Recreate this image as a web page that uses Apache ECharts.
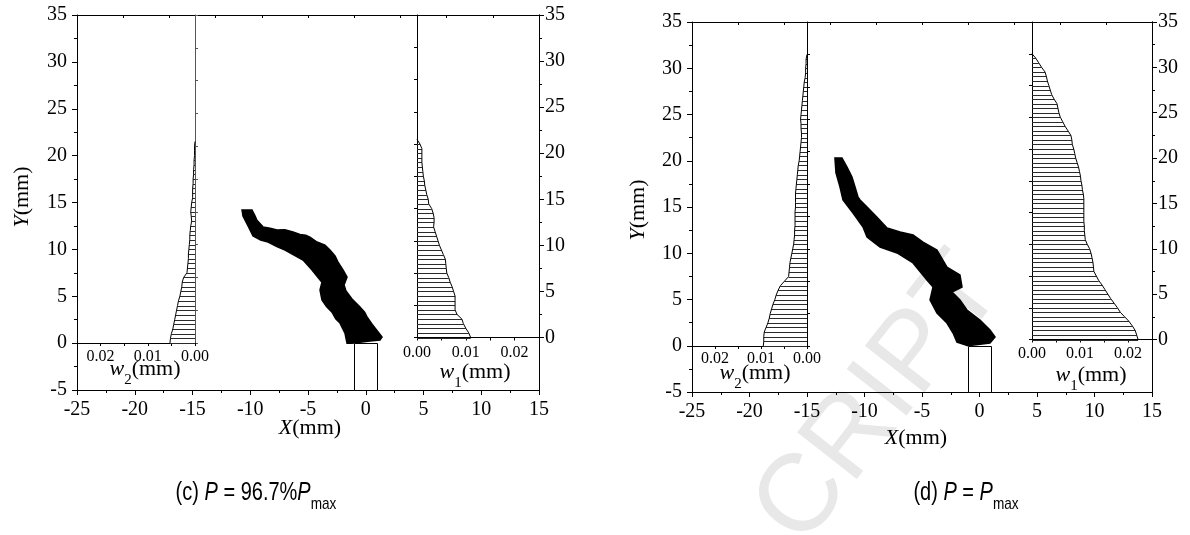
<!DOCTYPE html>
<html>
<head>
<meta charset="utf-8">
<script src="https://cdn.jsdelivr.net/npm/echarts@6.0.0/dist/echarts.min.js"></script>
<style>
  html, body { margin: 0; padding: 0; background: #fff; }
  #chart { width: 1190px; height: 535px; }
</style>
</head>
<body>
<div id="chart"></div>
<script>
// ---- Crack-opening profiles, w in mm, sampled every 0.5 mm along Y ----
// (c) P = 96.7% Pmax
const yC = [0,0.5,1,1.5,2,2.5,3,3.5,4,4.5,5,5.5,6,6.5,7,7.5,8,8.5,9,9.5,10,10.5,
            11,11.5,12,12.5,13,13.5,14,14.5,15,15.5,16,16.5,17,17.5,18,18.5,19,19.5,20,20.5,21,21.5];
const w1C = [0.0110,0.0106,0.0100,0.0095,0.0092,0.0082,0.0078,0.0078,0.0078,0.0078,
             0.0075,0.0072,0.0068,0.0065,0.0061,0.0060,0.0059,0.0058,0.0054,0.0050,
             0.0046,0.0043,0.0040,0.0037,0.0034,0.0035,0.0035,0.0033,0.0030,0.0024,
             0.0023,0.0020,0.0018,0.0016,0.0015,0.0013,0.0012,0.0011,0.0010,0.0010,
             0.0010,0.0010,0.0006,0];
const w2C = [0.0053,0.0052,0.0050,0.0047,0.0045,0.0043,0.0041,0.0039,0.0037,0.0035,
             0.0032,0.0030,0.0028,0.0027,0.0024,0.0017,0.0016,0.0015,0.0014,0.0014,
             0.0013,0.0012,0.0011,0.0011,0.0010,0.0009,0.0007,0.0008,0.0009,0.0008,
             0.0007,0.0005,0.0005,0.0005,0.0004,0.0004,0.0003,0.0003,0.0002,0.0002,
             0.0001,0.0001,0.0001,0];
// (d) P = Pmax
const yD = [0,0.5,1,1.5,2,2.5,3,3.5,4,4.5,5,5.5,6,6.5,7,7.5,8,8.5,9,9.5,10,10.5,
            11,11.5,12,12.5,13,13.5,14,14.5,15,15.5,16,16.5,17,17.5,18,18.5,19,19.5,20,20.5,
            21,21.5,22,22.5,23,23.5,24,24.5,25,25.5,26,26.5,27,27.5,28,28.5,29,29.5,30,30.5,31,31.5];
const w1D = [0.0221,0.0218,0.0215,0.0209,0.0202,0.0193,0.0184,0.0178,0.0171,0.0164,
             0.0158,0.0152,0.0146,0.0139,0.0134,0.0129,0.0128,0.0127,0.0125,0.0123,
             0.0120,0.0115,0.0111,0.0110,0.0109,0.0109,0.0108,0.0108,0.0108,0.0108,
             0.0108,0.0108,0.0107,0.0105,0.0104,0.0102,0.0101,0.0099,0.0097,0.0094,
             0.0091,0.0089,0.0087,0.0084,0.0083,0.0081,0.0075,0.0069,0.0064,0.0059,
             0.0056,0.0054,0.0052,0.0046,0.0041,0.0038,0.0035,0.0032,0.0030,0.0027,
             0.0020,0.0014,0.0008,0];
const w2D = [0.0095,0.0094,0.0094,0.0093,0.0089,0.0085,0.0082,0.0080,0.0077,0.0074,
             0.0070,0.0067,0.0063,0.0058,0.0049,0.0040,0.0039,0.0038,0.0037,0.0035,
             0.0033,0.0031,0.0029,0.0028,0.0027,0.0027,0.0026,0.0026,0.0026,0.0026,
             0.0025,0.0025,0.0025,0.0025,0.0024,0.0023,0.0022,0.0021,0.0020,0.0019,
             0.0017,0.0016,0.0015,0.0014,0.0013,0.0012,0.0012,0.0013,0.0013,0.0014,
             0.0013,0.0012,0.0011,0.0010,0.0009,0.0008,0.0007,0.0006,0.0004,0.0003,
             0.0003,0.0002,0.0002,0];

// ---- Crack band outlines, [X, Y] in mm ----
const crackC = [[-10.71,14.2],[-9.85,14.2],[-9.60,13.6],[-9.42,13.1],[-8.90,12.4],[-8.29,12.25],[-7.68,12.06],
  [-7.0,12.1],[-6.30,11.85],[-5.69,11.6],[-5.2,11.5],[-4.83,11.3],[-4.22,10.78],[-3.53,10.46],[-3.10,9.93],[-2.66,9.29],
  [-2.40,8.65],[-1.97,7.8],[-1.62,7.05],[-1.88,6.2],[-1.71,5.56],[-1.19,4.7],[-0.50,3.86],
  [-0.1,3.3],[0.11,2.8],[0.5,2.1],[0.80,1.61],[1.41,0.65],[1.23,0.33],[0.37,0.22],[-1.19,0.0],[-1.62,0.0],
  [-1.80,1.07],[-2.23,2.14],[-2.6,2.6],[-2.92,3.3],[-3.4,3.9],[-3.79,4.6],[-3.96,5.66],[-3.79,6.5],[-4.2,7.1],[-4.65,7.8],
  [-5.43,8.86],[-6.21,9.4],[-6.99,9.93],[-7.7,10.3],[-8.46,10.78],[-9.1,11.0],[-9.76,11.42],[-10.19,12.49],[-10.63,13.56]];
const crackD = [[-12.57,20.3],[-11.96,20.3],[-11.52,19.3],[-11.09,18.25],[-10.83,17.2],[-10.57,16.1],
  [-10.39,15.76],[-9.78,15.0],[-8.91,13.9],[-8.04,12.73],[-6.91,12.3],[-5.78,11.97],[-4.91,11.2],
  [-3.70,10.35],[-2.83,8.5],[-1.70,7.65],[-1.52,6.35],[-2.39,5.8],[-1.70,4.95],[-1.09,3.86],
  [0.04,2.78],[0.91,1.7],[1.35,0.95],[0.91,0.3],[-1.0,0.0],[-1.96,0.4],[-2.30,1.38],[-2.83,2.46],
  [-3.70,3.54],[-4.30,4.95],[-4.04,6.35],[-4.57,7.1],[-5.78,8.95],[-7.17,10.03],[-8.65,10.68],
  [-9.78,11.75],[-10.13,12.84],[-11.0,14.35],[-11.87,15.76],[-12.13,17.16],[-12.48,18.68]];

// Notch [X0, Y0, X1, Y1] in mm
const notch = [[-1, -5, 1, 0]];

// Axis ranges
const xRange = [-25, 15];
const yRange = [-5, 35];
const wRange = [0, 0.025];
const yInset = [0, 35];

const serif = "'Liberation Serif', 'Times New Roman', serif";
const black = '#000';

function pairs(ws, ys) { return ws.map((w, i) => [w, ys[i]]); }

// Tick labels drawn as rich text so the serif face is applied
function labelStyle(size, margin, fmt) {
  return { color: black, fontFamily: serif, fontSize: size, margin: margin,
    formatter: v => { const s = fmt ? fmt(v) : String(v); return s === '' ? '' : '{t|' + s + '}'; },
    rich: { t: { fontFamily: serif, fontSize: size, color: black } } };
}
function mainX(grid) {
  return { gridIndex: grid, type: 'value', min: xRange[0], max: xRange[1], interval: 5, position: 'bottom',
    axisLine: { show: true, onZero: false, lineStyle: { color: black, width: 1 } },
    axisTick: { show: true, length: 5, lineStyle: { color: black } },
    minorTick: { show: true, splitNumber: 2, length: 3, lineStyle: { color: black } },
    splitLine: { show: false }, minorSplitLine: { show: false },
    axisLabel: labelStyle(20, 10) };
}
function topX(grid) {
  return { gridIndex: grid, type: 'value', min: 0, max: 10, interval: 1, position: 'top',
    axisLine: { show: true, onZero: false, lineStyle: { color: black, width: 1 } },
    axisTick: { show: true, inside: true, length: 3, lineStyle: { color: black } },
    axisLabel: { show: false }, splitLine: { show: false } };
}
function wFmt(v) { const k = Math.round(v / 0.005); return (k % 2 === 0 && k < 5) ? v.toFixed(2) : ''; }
function wX(grid, inverse, margin) {
  const lab = labelStyle(16, margin, wFmt);
  lab.showMaxLabel = false;
  return { gridIndex: grid, type: 'value', min: wRange[0], max: wRange[1], interval: 0.005,
    inverse: inverse, position: 'bottom',
    axisLine: { show: true, onZero: false, lineStyle: { color: black, width: 1 } },
    axisTick: { show: true, length: 3, lineStyle: { color: black } },
    splitLine: { show: false }, axisLabel: lab };
}
function mainY(grid) {
  return { gridIndex: grid, type: 'value', min: yRange[0], max: yRange[1], interval: 5, position: 'left',
    axisLine: { show: true, onZero: false, lineStyle: { color: black, width: 1 } },
    axisTick: { show: true, length: 5, lineStyle: { color: black } },
    minorTick: { show: true, splitNumber: 2, length: 3, lineStyle: { color: black } },
    splitLine: { show: false }, minorSplitLine: { show: false },
    axisLabel: labelStyle(20, 10) };
}
function borderY(grid) {
  return { gridIndex: grid, type: 'value', min: yRange[0], max: yRange[1], position: 'right',
    axisLine: { show: true, onZero: false, lineStyle: { color: black, width: 1 } },
    axisTick: { show: false }, axisLabel: { show: false }, splitLine: { show: false } };
}
function insetY(grid, pos, color) {
  return { gridIndex: grid, type: 'value', min: yInset[0], max: yInset[1], interval: 3.5, position: pos,
    axisLine: { show: true, onZero: false, lineStyle: { color: color, width: 1 } },
    axisTick: { show: true, length: 3, lineStyle: { color: color } },
    axisLabel: { show: false }, splitLine: { show: false } };
}
function rightY(grid) {
  return { gridIndex: grid, type: 'value', min: yInset[0], max: yInset[1], interval: 5, position: 'right',
    axisLine: { show: true, onZero: false, lineStyle: { color: black, width: 1 } },
    axisTick: { show: true, length: 5, lineStyle: { color: black } },
    minorTick: { show: true, splitNumber: 2, length: 3, lineStyle: { color: black } },
    splitLine: { show: false }, minorSplitLine: { show: false },
    axisLabel: labelStyle(20, 6) };
}

// Horizontal hatch line from the inset axis out to the local opening
function hatchItem(params, api) {
  const w = api.value(0), y = api.value(1);
  const a = api.coord([0, y]), b = api.coord([w, y]);
  const yy = Math.round(a[1]) + 0.5;
  return { type: 'line', shape: { x1: a[0], y1: yy, x2: b[0], y2: yy },
    style: { stroke: '#2a2a2a', lineWidth: 1 } };
}
function polygonItem(pts) {
  return function (params, api) {
    if (params.dataIndex !== 0) return null;
    return { type: 'polygon', shape: { points: pts.map(p => api.coord(p)) },
      style: { fill: '#000', stroke: '#000', lineWidth: 1.5 } };
  };
}
function notchItem(params, api) {
  const p0 = api.coord([api.value(0), api.value(1)]);
  const p1 = api.coord([api.value(2), api.value(3)]);
  return { type: 'rect', shape: { x: Math.round(p0[0]) + 0.5, y: Math.round(p1[1]) + 0.5,
      width: Math.round(p1[0] - p0[0]), height: Math.round(p0[1] - p1[1]) },
    style: { fill: '#fff', stroke: '#000', lineWidth: 1 } };
}

function profileSeries(xi, yi, data) {
  return [
    { type: 'custom', xAxisIndex: xi, yAxisIndex: yi, data: data, renderItem: hatchItem, z: 3, clip: false },
    { type: 'line', xAxisIndex: xi, yAxisIndex: yi, data: data, showSymbol: false, symbol: 'none',
      lineStyle: { color: '#000', width: 1 }, clip: false, z: 4 }
  ];
}

const grids = [
  { left: 77, top: 15, width: 462, height: 375 },      // (c) main
  { left: 77, top: 15, width: 118, height: 328 },      // (c) w2 inset
  { left: 417, top: 15, width: 122, height: 322.5 },   // (c) w1 inset
  { left: 692, top: 22, width: 460, height: 370 },     // (d) main
  { left: 692, top: 22, width: 115, height: 324 },     // (d) w2 inset
  { left: 1032, top: 22, width: 120, height: 317.5 }   // (d) w1 inset
].map(g => Object.assign({ containLabel: false, outerBoundsMode: 'none' }, g));

const xAxes = [mainX(0), topX(0), wX(1, true, 6), wX(2, false, 7),
               mainX(3), topX(3), wX(4, true, 5), wX(5, false, 6)];
const yAxes = [mainY(0), borderY(0), insetY(1, 'right', '#555'), insetY(2, 'left', '#000'), rightY(2),
               mainY(3), borderY(3), insetY(4, 'right', '#000'), insetY(5, 'left', '#000'), rightY(5)];

const series = [].concat(
  profileSeries(2, 2, pairs(w2C, yC)),
  profileSeries(3, 3, pairs(w1C, yC)),
  [{ type: 'custom', xAxisIndex: 0, yAxisIndex: 0, data: crackC, renderItem: polygonItem(crackC), z: 5 },
   { type: 'custom', xAxisIndex: 0, yAxisIndex: 0, data: notch, renderItem: notchItem, z: 5 }],
  profileSeries(6, 7, pairs(w2D, yD)),
  profileSeries(7, 8, pairs(w1D, yD)),
  [{ type: 'custom', xAxisIndex: 4, yAxisIndex: 5, data: crackD, renderItem: polygonItem(crackD), z: 5 },
   { type: 'custom', xAxisIndex: 4, yAxisIndex: 5, data: notch, renderItem: notchItem, z: 5 }]
);

// Axis titles and captions
const titleRich = {
  i: { fontFamily: serif, fontSize: 22, fontStyle: 'italic', lineHeight: 38, fill: '#000' },
  n: { fontFamily: serif, fontSize: 22, lineHeight: 38, fill: '#000' },
  s: { fontFamily: serif, fontSize: 15, lineHeight: 15, verticalAlign: 'bottom', fill: '#000' }
};
function label(x, y, text, rot) {
  return { type: 'text', x: x, y: y, rotation: rot || 0, z: 10,
    style: { text: text, rich: titleRich, align: 'center', verticalAlign: 'middle',
      fontFamily: serif, fontSize: 22, fill: '#000' } };
}
const capFont = "'Liberation Sans', Arial, sans-serif";
const capRich = {
  n: { fontFamily: capFont, fontSize: 25, lineHeight: 40, fill: '#000' },
  i: { fontFamily: capFont, fontSize: 25, fontStyle: 'italic', lineHeight: 40, fill: '#000' },
  s: { fontFamily: capFont, fontSize: 17, lineHeight: 17, verticalAlign: 'bottom', fill: '#000' }
};
function caption(x, y, text) {
  return { type: 'text', x: x, y: y, z: 10, scaleX: 0.8,
    style: { text: text, rich: capRich, align: 'center', verticalAlign: 'middle', fill: '#000' } };
}

const graphics = [
  { type: 'text', x: 880, y: 400, rotation: 52 * Math.PI / 180, z: -10,
    style: { text: 'CRIPT', fontFamily: 'Liberation Sans', fontSize: 110, fill: '#e8e8e8',
      align: 'center', verticalAlign: 'middle' } },
  label(310, 428, '{i|X}{n|(mm)}'),
  label(22, 197, '{i|Y}{n|(mm)}', Math.PI / 2),
  label(145, 369, '{i|w}{s|2}{n|(mm)}'),
  label(475, 372, '{i|w}{s|1}{n|(mm)}'),
  label(916, 438, '{i|X}{n|(mm)}'),
  label(638, 210, '{i|Y}{n|(mm)}', Math.PI / 2),
  label(755, 373, '{i|w}{s|2}{n|(mm)}'),
  label(1091, 375, '{i|w}{s|1}{n|(mm)}'),
  caption(256, 493, '{n|(c) }{i|P}{n| = 96.7%}{i|P}{s|max}'),
  caption(966, 493, '{n|(d) }{i|P}{n| = }{i|P}{s|max}')
];

const chart = echarts.init(document.getElementById('chart'), null, { renderer: 'canvas' });
chart.setOption({
  animation: false,
  backgroundColor: '#fff',
  textStyle: { fontFamily: serif, color: black },
  grid: grids,
  xAxis: xAxes,
  yAxis: yAxes,
  series: series,
  graphic: { elements: graphics }
});
</script>
</body>
</html>
